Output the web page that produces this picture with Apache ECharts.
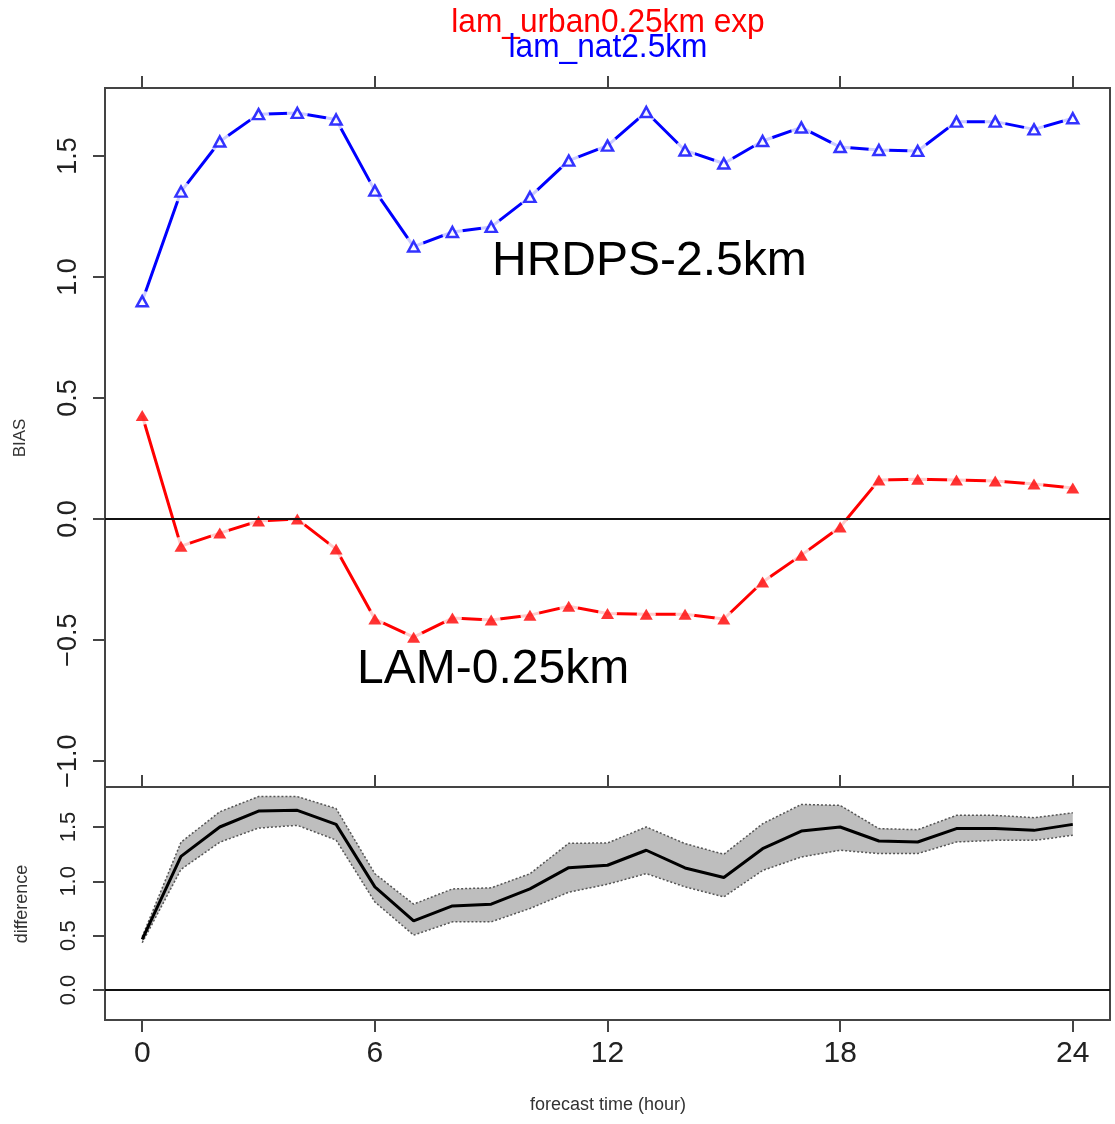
<!DOCTYPE html>
<html><head><meta charset="utf-8">
<script src="https://cdn.jsdelivr.net/npm/echarts@6/dist/echarts.min.js"></script>
<style>html,body{margin:0;padding:0;background:#fff}#c{width:1115px;height:1124px}</style>
</head><body><div id="c"></div>
<script>
// ---- data ----
const hours = [0,1,2,3,4,5,6,7,8,9,10,11,12,13,14,15,16,17,18,19,20,21,22,23,24];
const hrdps = [0.90,1.353,1.560,1.673,1.678,1.651,1.357,1.126,1.186,1.207,1.331,1.481,1.543,1.682,1.523,1.469,1.562,1.618,1.537,1.525,1.521,1.642,1.642,1.610,1.656];
const lam = [0.428,-0.112,-0.058,-0.008,0.0,-0.124,-0.413,-0.488,-0.409,-0.417,-0.397,-0.360,-0.390,-0.393,-0.393,-0.413,-0.260,-0.149,-0.033,0.161,0.165,0.161,0.157,0.145,0.128];
const diffMean = [0.465,1.23,1.50,1.647,1.653,1.524,0.949,0.637,0.774,0.79,0.93,1.126,1.148,1.286,1.123,1.035,1.30,1.463,1.50,1.371,1.362,1.485,1.485,1.469,1.524];
const diffUpper = [0.49,1.36,1.64,1.78,1.78,1.67,1.07,0.79,0.93,0.94,1.07,1.35,1.353,1.50,1.347,1.249,1.53,1.708,1.699,1.485,1.475,1.607,1.607,1.586,1.631];
const diffLower = [0.435,1.11,1.36,1.49,1.515,1.38,0.81,0.505,0.627,0.627,0.75,0.90,0.973,1.071,0.949,0.857,1.10,1.224,1.286,1.255,1.255,1.362,1.377,1.377,1.423];
const xTicks = [0,6,12,18,24];
const biasTicks = [-1,-0.5,0,0.5,1,1.5];
const diffTicks = [0,0.5,1,1.5];
const titleLines = ['lam_urban0.25km exp','lam_nat2.5km'];
const annoText = ['HRDPS-2.5km','LAM-0.25km'];
const annoX = [13.08, 9.05];
const annoY = [1.062, -0.624];

// ---- chart ----
const FONT = '"Liberation Sans", Arial, sans-serif';
const AX = '#444';
const pairs = (arr) => hours.map((h,i)=>[h, arr[i]]);
const fmt = v => v.toFixed(1).replace('-', '\u2212');

const chart = echarts.init(document.getElementById('c'), null, {renderer:'canvas'});

const xBase = (gi, pos, opts) => Object.assign({
  type:'value', gridIndex: gi, position: pos, min:-0.96, max:24.96,
  axisLine:{show:true, onZero:false, lineStyle:{color:AX, width:2}},
  axisTick:{show:true, customValues:xTicks, length:12, lineStyle:{color:AX, width:2}},
  axisLabel:{show:false, customValues:xTicks},
  splitLine:{show:false}
}, opts);

const bandData = hours.map((h,i)=>[h, diffLower[i], diffUpper[i]]);

const option = {
  animation:false,
  backgroundColor:'#fff',
  grid:[
    {left:105, top:88, width:1005, height:699, show:true, borderColor:AX, borderWidth:2, containLabel:false},
    {left:105, top:787, width:1005, height:233, show:true, borderColor:AX, borderWidth:2, containLabel:false}
  ],
  xAxis:[
    xBase(0,'top',{}),
    xBase(0,'bottom',{axisTick:{show:true, inside:true, customValues:xTicks, length:12, lineStyle:{color:AX, width:2}}}),
    xBase(1,'bottom',{axisLabel:{show:true, customValues:xTicks, fontSize:30, fontFamily:FONT, color:'#222', margin:19, formatter: v => String(v)}})
  ],
  yAxis:[
    {type:'value', gridIndex:0, min:-1.107, max:1.781,
     axisLine:{show:true, onZero:false, lineStyle:{color:AX, width:2}},
     axisTick:{show:true, customValues:biasTicks, length:12, lineStyle:{color:AX, width:2}},
     axisLabel:{show:true, customValues:biasTicks, rotate:90, fontSize:27, fontFamily:FONT, color:'#222', margin:23, formatter: fmt},
     splitLine:{show:false}},
    {type:'value', gridIndex:1, min:-0.276, max:1.868,
     axisLine:{show:true, onZero:false, lineStyle:{color:AX, width:2}},
     axisTick:{show:true, customValues:diffTicks, length:12, lineStyle:{color:AX, width:2}},
     axisLabel:{show:true, customValues:diffTicks, rotate:90, fontSize:22, fontFamily:FONT, color:'#222', margin:25, formatter: fmt},
     splitLine:{show:false}}
  ],
  series:[
    {name:'hrdpsLine', type:'line', xAxisIndex:0, yAxisIndex:0, data:pairs(hrdps), showSymbol:false, symbol:'none', z:2,
     lineStyle:{color:'#0000ff', width:3}},
    {name:'lamLine', type:'line', xAxisIndex:0, yAxisIndex:0, data:pairs(lam), showSymbol:false, symbol:'none', z:2,
     lineStyle:{color:'#ff0000', width:3}},
    {name:'hrdpsGap', type:'scatter', xAxisIndex:0, yAxisIndex:0, data:pairs(hrdps), symbol:'circle', symbolSize:21, z:3,
     itemStyle:{color:'#fff'}, silent:true},
    {name:'lamGap', type:'scatter', xAxisIndex:0, yAxisIndex:0, data:pairs(lam), symbol:'circle', symbolSize:19, z:3,
     itemStyle:{color:'#fff'}, silent:true},
    {name:'hrdpsPts', type:'scatter', xAxisIndex:0, yAxisIndex:0, data:pairs(hrdps), symbol:'triangle', symbolSize:[11,10], z:4,
     itemStyle:{color:'#fff', borderColor:'#0000ff', borderWidth:2.5}},
    {name:'lamPts', type:'scatter', xAxisIndex:0, yAxisIndex:0, data:pairs(lam), symbol:'triangle', symbolSize:[13,11], z:4,
     itemStyle:{color:'#ff0000'},
     markLine:{silent:true, symbol:'none', label:{show:false}, lineStyle:{color:'#111', width:2, type:'solid'}, data:[{yAxis:0}]}},
    // bottom panel: uncertainty band as polygon built from lower/upper arrays
    {name:'band', type:'custom', xAxisIndex:2, yAxisIndex:1, data:bandData, z:1, silent:true, clip:true,
     renderItem:(params, api) => {
       if (params.dataIndex !== 0) return null;
       const pts = [];
       for (let i=0;i<hours.length;i++) pts.push(api.coord([hours[i], diffUpper[i]]));
       for (let i=hours.length-1;i>=0;i--) pts.push(api.coord([hours[i], diffLower[i]]));
       return {type:'polygon', shape:{points:pts}, style:{fill:'#bebebe', stroke:null}};
     }},
    {name:'upper', type:'line', xAxisIndex:2, yAxisIndex:1, data:pairs(diffUpper), symbol:'none', z:2,
     lineStyle:{color:'#555', width:1.5, type:[2,2]}},
    {name:'lower', type:'line', xAxisIndex:2, yAxisIndex:1, data:pairs(diffLower), symbol:'none', z:2,
     lineStyle:{color:'#555', width:1.5, type:[2,2]}},
    {name:'mean', type:'line', xAxisIndex:2, yAxisIndex:1, data:pairs(diffMean), symbol:'none', z:3,
     lineStyle:{color:'#000', width:3},
     markLine:{silent:true, symbol:'none', label:{show:false}, lineStyle:{color:'#111', width:2, type:'solid'}, data:[{yAxis:0}]}}
  ]
};
chart.setOption(option);

// free texts: titles, axis names, annotations (annotations placed via data coordinates)
const g = [];
g.push({type:'text', x:608, y:23, scaleX:0.96, style:{text:titleLines[0], fill:'#ff0000', font:'33px '+FONT, textAlign:'center', textVerticalAlign:'middle'}, z:10});
g.push({type:'text', x:608, y:48, scaleX:0.96, style:{text:titleLines[1], fill:'#0000ff', font:'33px '+FONT, textAlign:'center', textVerticalAlign:'middle'}, z:11});
g.push({type:'text', x:20, y:438, rotation:Math.PI/2, style:{text:'BIAS', fill:'#333', font:'17px '+FONT, textAlign:'center', textVerticalAlign:'middle'}, z:10});
g.push({type:'text', x:22, y:904, rotation:Math.PI/2, style:{text:'difference', fill:'#333', font:'18px '+FONT, textAlign:'center', textVerticalAlign:'middle'}, z:10});
g.push({type:'text', x:608, y:1105, style:{text:'forecast time (hour)', fill:'#333', font:'18px '+FONT, textAlign:'center', textVerticalAlign:'middle'}, z:10});
annoText.forEach((t,i)=>{
  const p = chart.convertToPixel({xAxisIndex:0, yAxisIndex:0}, [annoX[i], annoY[i]]);
  g.push({type:'text', x:p[0], y:p[1], style:{text:t, fill:'#000', font:'48px '+FONT, textAlign:'center', textVerticalAlign:'middle'}, z:10});
});
chart.setOption({graphic:g});
</script>
</body></html>
